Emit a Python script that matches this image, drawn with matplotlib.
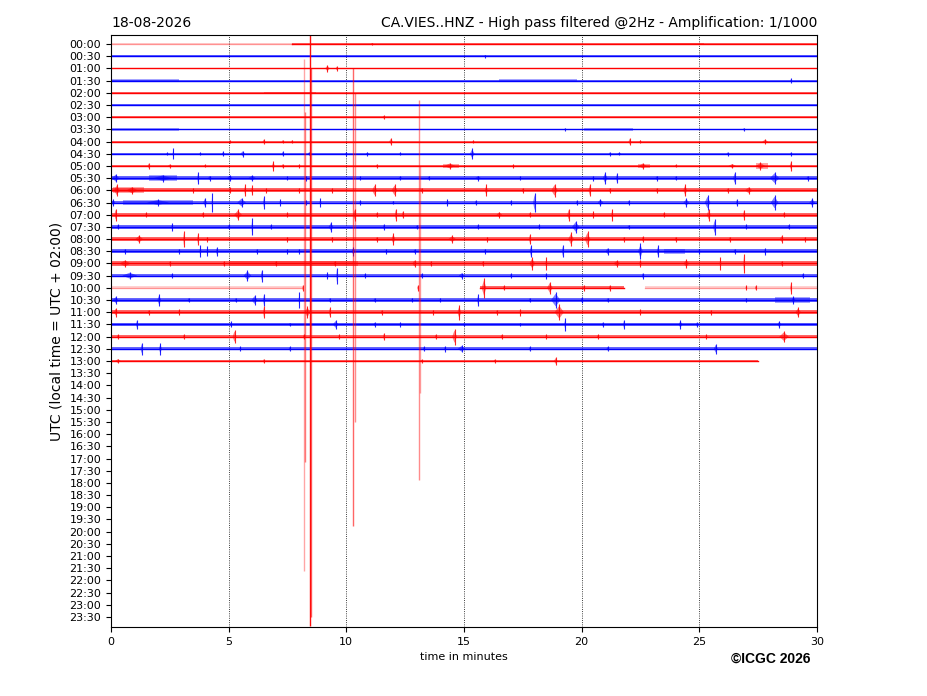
import matplotlib
matplotlib.use("Agg")
import matplotlib.pyplot as plt
from matplotlib.patches import Polygon

date_label = "18-08-2026"
station_title = "CA.VIES..HNZ - High pass filtered @2Hz - Amplification: 1/1000"
row_labels = ["%02d:%02d" % (h, m) for h in range(24) for m in (0, 30)]
n_traces = 27  # 00:00 .. 13:00 have data

# background noise half-width per trace (in row units)
noise = [0.05, 0.06, 0.06, 0.07, 0.06, 0.06, 0.06, 0.07, 0.07, 0.09,
         0.10, 0.16, 0.17, 0.16, 0.16, 0.15, 0.17, 0.16, 0.17, 0.14,
         0.12, 0.15, 0.16, 0.13, 0.15, 0.13, 0.10]

# recorded spans (start min, end min, faint?) where not the full half hour
spans = {
    0: [(0.0, 7.7, True), (7.7, 30.0, False)],
    20: [(0.0, 8.1, True), (15.7, 21.8, False), (22.7, 30.0, True)],
    26: [(0.0, 27.5, False)],
}

# noisier stretches: (row, start, end, half-width)
noisy = [(0, 22.9, 25.2, 0.09), (3, 0.0, 2.9, 0.1), (3, 16.5, 19.8, 0.1),
         (4, 6.5, 8.7, 0.09), (7, 0.0, 2.9, 0.1), (7, 20.1, 22.2, 0.1),
         (10, 14.1, 14.8, 0.2), (10, 22.4, 22.9, 0.2), (10, 27.4, 27.9, 0.22),
         (11, 1.6, 2.8, 0.22), (12, 0.1, 1.4, 0.25), (13, 0.5, 3.5, 0.2),
         (17, 23.5, 24.4, 0.22), (18, 5.0, 10.5, 0.2), (21, 28.2, 29.7, 0.22)]

# bursts per trace: (minute, half amplitude in rows, duration in minutes)
events = {
    0: [(11.1, 0.1, 0.15)],
    1: [(15.9, 0.12, 0.1)],
    2: [(9.2, 0.28, 0.25), (9.6, 0.18, 0.15)],
    3: [(28.9, 0.2, 0.08)],
    6: [(11.6, 0.15, 0.15)],
    7: [(26.9, 0.15, 0.1), (19.3, 0.12, 0.1)],
    8: [(5.06, 0.12, 0.1), (6.5, 0.2, 0.15), (7.3, 0.15, 0.1), (7.7, 0.15, 0.1),
        (11.9, 0.3, 0.2), (15.4, 0.12, 0.1), (22.05, 0.3, 0.15), (22.5, 0.15, 0.1),
        (27.8, 0.2, 0.3)],
    9: [(2.4, 0.12, 0.1), (2.65, 0.45, 0.08), (3.8, 0.12, 0.1), (4.77, 0.2, 0.15),
        (5.6, 0.25, 0.25), (7.3, 0.2, 0.1), (8.4, 0.12, 0.1), (10.0, 0.18, 0.1),
        (10.9, 0.15, 0.15), (12.3, 0.12, 0.1), (15.35, 0.45, 0.25), (21.2, 0.15, 0.1),
        (21.6, 0.12, 0.2), (26.2, 0.15, 0.1), (28.9, 0.15, 0.1)],
    10: [(1.6, 0.25, 0.1), (2.5, 0.15, 0.2), (4.0, 0.12, 0.1), (6.9, 0.4, 0.15),
         (7.3, 0.2, 0.1), (8.0, 0.15, 0.1), (11.3, 0.15, 0.1), (14.4, 0.25, 0.6),
         (17.1, 0.15, 0.1), (22.6, 0.25, 0.4), (24.0, 0.12, 0.1), (26.4, 0.2, 0.4),
         (27.6, 0.3, 0.5), (28.9, 0.4, 0.15)],
    11: [(0.2, 0.35, 0.4), (2.2, 0.28, 1.0), (3.7, 0.5, 0.08), (4.2, 0.2, 0.2),
         (5.05, 0.25, 0.3), (6.0, 0.25, 0.4), (7.5, 0.15, 0.1), (8.3, 0.2, 0.1),
         (10.6, 0.15, 0.1), (12.3, 0.15, 0.2), (13.5, 0.15, 0.1), (15.6, 0.2, 0.3),
         (17.4, 0.15, 0.1), (20.5, 0.2, 0.1), (21.0, 0.5, 0.25), (21.5, 0.4, 0.1),
         (23.2, 0.2, 0.15), (24.0, 0.18, 0.1), (26.5, 0.5, 0.15), (28.2, 0.5, 0.5),
         (29.6, 0.2, 0.1)],
    12: [(0.25, 0.5, 0.3), (0.9, 0.3, 0.6), (3.5, 0.2, 0.1), (5.06, 0.25, 0.1),
         (5.7, 0.5, 0.1), (6.0, 0.4, 0.1), (6.6, 0.2, 0.1), (8.0, 0.2, 0.1),
         (9.4, 0.2, 0.1), (11.2, 0.5, 0.25), (12.05, 0.5, 0.3), (13.2, 0.2, 0.1),
         (15.95, 0.5, 0.15), (17.5, 0.2, 0.1), (18.85, 0.55, 0.35), (20.35, 0.5, 0.15),
         (21.2, 0.2, 0.1), (23.2, 0.2, 0.1), (24.4, 0.5, 0.2), (26.2, 0.2, 0.1),
         (27.1, 0.3, 0.4)],
    13: [(0.1, 0.3, 0.2), (2.0, 0.25, 1.2), (4.0, 0.4, 0.2), (4.3, 0.8, 0.05),
         (5.55, 0.4, 0.45), (6.5, 0.5, 0.1), (7.2, 0.25, 0.1), (8.3, 0.2, 0.1),
         (8.9, 0.35, 0.1), (10.6, 0.2, 0.1), (12.0, 0.15, 0.1), (14.3, 0.3, 0.1),
         (15.5, 0.2, 0.1), (17.0, 0.2, 0.1), (18.0, 0.8, 0.15), (19.8, 0.2, 0.1),
         (20.8, 0.3, 0.3), (22.0, 0.2, 0.1), (24.45, 0.35, 0.3), (25.35, 0.6, 0.3),
         (26.6, 0.3, 0.1), (28.2, 0.6, 0.4), (29.8, 0.35, 0.3)],
    14: [(0.2, 0.5, 0.15), (1.5, 0.2, 0.1), (3.9, 0.2, 0.1), (5.4, 0.45, 0.4),
         (7.5, 0.2, 0.1), (10.35, 0.5, 0.15), (11.3, 0.2, 0.1), (12.1, 0.5, 0.1),
         (12.4, 0.3, 0.1), (16.5, 0.25, 0.3), (17.8, 0.2, 0.1), (19.45, 0.5, 0.15),
         (20.5, 0.3, 0.1), (21.3, 0.5, 0.1), (23.5, 0.2, 0.1), (25.4, 0.5, 0.2),
         (26.9, 0.4, 0.1), (28.6, 0.2, 0.1)],
    15: [(0.3, 0.2, 0.1), (2.6, 0.3, 0.1), (5.0, 0.2, 0.1), (6.0, 0.7, 0.08),
         (6.8, 0.2, 0.1), (9.35, 0.4, 0.25), (11.6, 0.25, 0.1), (13.0, 0.15, 0.1),
         (15.6, 0.2, 0.1), (18.2, 0.2, 0.1), (19.75, 0.5, 0.4), (22.0, 0.15, 0.1),
         (25.65, 0.65, 0.15), (27.0, 0.2, 0.1), (28.8, 0.2, 0.1)],
    16: [(1.2, 0.35, 0.4), (3.1, 0.65, 0.08), (3.7, 0.5, 0.1), (4.1, 0.2, 0.1),
         (7.5, 0.2, 0.1), (9.4, 0.2, 0.1), (11.3, 0.2, 0.1), (12.0, 0.5, 0.2),
         (14.5, 0.3, 0.4), (16.0, 0.2, 0.1), (17.8, 0.4, 0.1), (19.55, 0.55, 0.3),
         (20.25, 0.65, 0.3), (21.8, 0.2, 0.1), (22.6, 0.25, 0.1), (24.0, 0.2, 0.1),
         (26.3, 0.2, 0.1), (28.5, 0.3, 0.2), (29.5, 0.2, 0.1)],
    17: [(0.6, 0.2, 0.1), (2.9, 0.2, 0.1), (3.8, 0.5, 0.1), (4.1, 0.4, 0.1),
         (4.5, 0.35, 0.1), (6.2, 0.2, 0.1), (7.5, 0.2, 0.1), (8.0, 0.2, 0.1),
         (10.3, 0.35, 0.2), (11.7, 0.2, 0.1), (12.9, 0.2, 0.1), (15.9, 0.2, 0.1),
         (17.85, 0.5, 0.15), (19.2, 0.5, 0.1), (21.1, 0.3, 0.2), (22.5, 0.65, 0.25),
         (23.25, 0.5, 0.15), (25.0, 0.2, 0.1), (26.5, 0.2, 0.1), (27.8, 0.3, 0.1)],
    18: [(0.6, 0.3, 0.6), (2.5, 0.2, 0.1), (4.8, 0.2, 0.1), (7.0, 0.2, 0.1),
         (9.5, 0.2, 0.1), (12.9, 0.3, 0.25), (13.6, 0.2, 0.1), (15.8, 0.2, 0.1),
         (17.9, 0.5, 0.3), (18.5, 0.5, 0.1), (21.5, 0.25, 0.4), (22.5, 0.3, 0.15),
         (24.45, 0.35, 0.3), (25.9, 0.5, 0.1), (26.9, 0.8, 0.08), (28.5, 0.2, 0.1)],
    19: [(0.8, 0.3, 0.8), (2.6, 0.2, 0.1), (5.8, 0.45, 0.4), (6.4, 0.5, 0.08),
         (9.2, 0.3, 0.1), (9.6, 0.65, 0.06), (10.8, 0.2, 0.1), (13.2, 0.2, 0.1),
         (14.9, 0.25, 0.3), (17.0, 0.2, 0.1), (18.5, 0.25, 0.1), (22.6, 0.25, 0.1),
         (25.0, 0.15, 0.1), (29.4, 0.2, 0.1)],
    20: [(8.15, 0.25, 0.08), (13.05, 0.25, 0.1), (15.85, 0.8, 0.25), (16.7, 0.2, 0.1),
         (18.65, 0.5, 0.3), (20.1, 0.25, 0.1), (21.2, 0.25, 0.1), (27.0, 0.2, 0.1),
         (27.4, 0.2, 0.1), (28.9, 0.5, 0.1)],
    21: [(0.2, 0.3, 0.3), (2.05, 0.5, 0.2), (3.3, 0.2, 0.1), (5.3, 0.2, 0.1),
         (6.1, 0.4, 0.3), (6.5, 0.5, 0.1), (8.0, 0.65, 0.06), (9.3, 0.2, 0.1),
         (11.2, 0.2, 0.1), (12.8, 0.2, 0.1), (14.0, 0.2, 0.1), (15.6, 0.5, 0.1),
         (17.8, 0.2, 0.1), (18.9, 0.65, 0.5), (20.0, 0.25, 0.1), (21.1, 0.2, 0.1),
         (27.0, 0.2, 0.1), (29.0, 0.3, 0.2)],
    22: [(0.2, 0.35, 0.2), (1.6, 0.2, 0.1), (2.9, 0.25, 0.1), (6.5, 0.5, 0.1),
         (8.35, 0.5, 0.3), (9.3, 0.4, 0.1), (11.5, 0.2, 0.1), (13.7, 0.2, 0.1),
         (14.8, 0.6, 0.2), (16.4, 0.2, 0.1), (17.4, 0.3, 0.1), (19.05, 0.65, 0.5),
         (22.5, 0.25, 0.1), (25.5, 0.2, 0.1), (29.2, 0.4, 0.3)],
    23: [(1.1, 0.35, 0.1), (5.1, 0.25, 0.1), (7.6, 0.15, 0.1), (9.55, 0.35, 0.3),
         (11.2, 0.2, 0.1), (12.3, 0.2, 0.1), (15.0, 0.15, 0.1), (17.4, 0.15, 0.1),
         (19.3, 0.5, 0.1), (20.9, 0.2, 0.1), (21.8, 0.4, 0.1), (24.2, 0.35, 0.2),
         (24.9, 0.2, 0.1), (28.4, 0.3, 0.2)],
    24: [(0.3, 0.2, 0.1), (3.1, 0.2, 0.1), (5.25, 0.55, 0.2), (8.2, 0.2, 0.1),
         (9.7, 0.2, 0.1), (11.6, 0.3, 0.1), (13.8, 0.2, 0.1), (14.6, 0.65, 0.25),
         (16.6, 0.2, 0.1), (18.5, 0.2, 0.1), (20.7, 0.2, 0.1), (25.3, 0.2, 0.1),
         (28.6, 0.45, 0.5)],
    25: [(1.3, 0.5, 0.1), (2.1, 0.5, 0.15), (5.5, 0.2, 0.1), (7.6, 0.2, 0.1),
         (13.3, 0.2, 0.1), (14.2, 0.25, 0.1), (14.9, 0.3, 0.4), (17.8, 0.2, 0.1),
         (21.1, 0.2, 0.1), (25.7, 0.4, 0.2)],
    26: [(0.3, 0.2, 0.3), (6.5, 0.2, 0.1), (13.2, 0.15, 0.1), (16.3, 0.15, 0.1),
         (18.9, 0.3, 0.2)],
}

# very large arrivals that spill over many rows: (minute, top row, bottom row, strength)
big_spikes = [(8.45, -1.0, 47.7, 0.95), (8.52, 2.0, 47.0, 0.6), (8.2, 1.2, 43.2, 0.35),
              (8.25, 5.6, 34.3, 0.5), (10.3, 2.0, 39.5, 0.6), (10.36, 4.0, 31.0, 0.45),
              (13.1, 4.6, 35.8, 0.45), (13.15, 10.0, 28.6, 0.35)]

colors = ["#ff0000", "#0000ff"]

fig = plt.figure(figsize=(9.27, 6.96), dpi=100)
ax = fig.add_axes([0.1197, 0.0991, 0.7616, 0.8506])

for i in range(n_traces):
    c = colors[i % 2]
    for (t0, t1, faint) in spans.get(i, [(0.0, 30.0, False)]):
        a = 0.3 if faint else 1.0
        ax.fill_between([t0, t1], i - noise[i], i + noise[i], color=c, alpha=a * 0.6, lw=0)
        ax.plot([t0, t1], [i, i], color=c, alpha=a, lw=1.0)
    for (r, t0, t1, h) in noisy:
        if r == i:
            ax.fill_between([t0, t1], i - h, i + h, color=c, alpha=0.35, lw=0)
    for (t, amp, dur) in events.get(i, []):
        w = dur * 0.8
        ax.add_patch(Polygon([(t - w / 2, i), (t, i + amp * 0.8), (t + w / 2, i), (t, i - amp * 0.8)],
                             closed=True, facecolor=c, edgecolor="none", alpha=0.5))
        ax.vlines(t, i - amp, i + amp, color=c, lw=0.8, alpha=0.85)

for (t, top, bottom, s) in big_spikes:
    ax.vlines(t, top, bottom, color="#ff0000", lw=1.0, alpha=s)

ax.set_xlim(0, 30)
ax.set_ylim(47.82, -0.74)
ax.set_xticks([0, 5, 10, 15, 20, 25, 30])
ax.set_yticks(range(len(row_labels)))
ax.set_yticklabels(row_labels)
ax.tick_params(labelsize=8)
ax.grid(axis="x", linestyle=":", color="black", lw=0.6)
ax.set_axisbelow(True)

ax.set_xlabel("time in minutes", fontsize=8)
ax.set_ylabel("UTC (local time = UTC + 02:00)", fontsize=10)
ax.set_title(date_label, loc="left", fontsize=10)
ax.set_title(station_title, loc="right", fontsize=10)
fig.text(0.831, 0.054, "\u00a9ICGC 2026", ha="center", va="center",
         fontsize=10, fontweight="bold", family=["Liberation Sans", "DejaVu Sans"])

fig.savefig("out.png", dpi=100)
